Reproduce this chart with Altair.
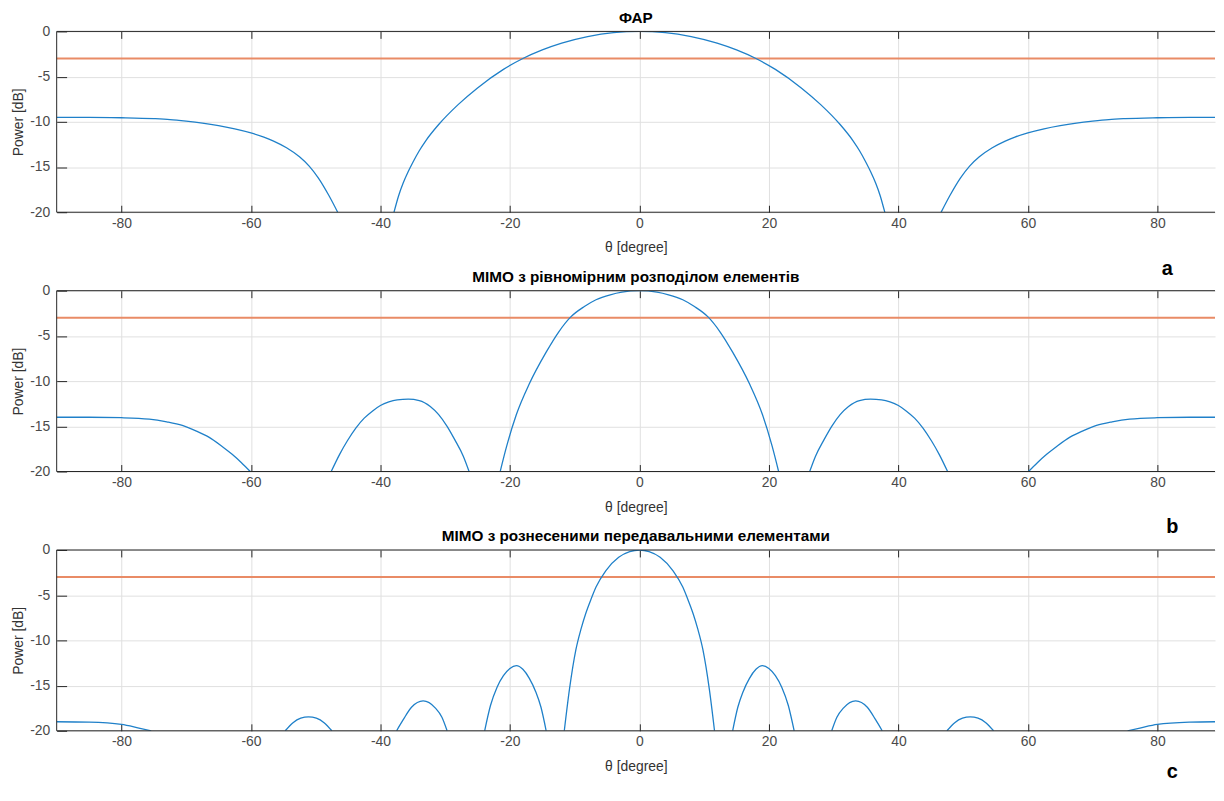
import altair as alt
import pandas as pd

# ---------------- data ----------------
TITLES = ["ФАР",
          "MIMO з рівномірним розподілом елементів",
          "MIMO з рознесеними передавальними елементами"]
LETTERS = ["a", "b", "c"]

X_TICKS = [-80, -60, -40, -20, 0, 20, 40, 60, 80]
Y_TICKS = [-20, -15, -10, -5, 0]
X_DOMAIN = [-90, 88.9]          # the reference is cropped just short of +90
Y_DOMAIN = [-20, 0]
HALF_POWER = [-3]

# Panel a (ФАР)
A1_T = [-90, -85, -80, -75, -72.5, -70, -67.5, -65, -62.5, -60, -58, -56.5, -54.5, -52.5, -51, -49.6, -48, -46.6]
A1_P = [-9.5, -9.5, -9.55, -9.65, -9.75, -9.93, -10.15, -10.43, -10.78, -11.23, -11.69, -12.13, -12.87, -13.87, -14.9, -16.2, -18.1, -20]
A2_T = [-37.9, -37.2, -36.5, -35.7, -35, -34, -33, -31, -28, -25, -21, -18, -15, -12, -8, -4, 0,
        4, 8, 12, 15, 18, 21, 25, 28, 31, 33, 34, 35, 35.7, 36.5, 37.2, 37.9]
A2_P = [-20, -18.2, -16.8, -15.5, -14.5, -13.2, -12.1, -10.3, -8.1, -6.25, -4.2, -3.0, -2.05, -1.3, -0.58, -0.14, 0,
        -0.14, -0.58, -1.3, -2.05, -3.0, -4.2, -6.25, -8.1, -10.3, -12.1, -13.2, -14.5, -15.5, -16.8, -18.2, -20]
A3_T = [46.6, 48, 49.6, 51, 52.5, 54.5, 56.5, 58, 60, 62.5, 65, 67.5, 70, 72.5, 75, 80, 85, 88.9]
A3_P = [-20, -18.1, -16.2, -14.9, -13.87, -12.87, -12.13, -11.69, -11.23, -10.78, -10.43, -10.15, -9.93, -9.75, -9.65, -9.55, -9.5, -9.5]

# Panel b (MIMO, uniform)
B1_T = [-90, -85, -80, -75.7, -73, -70.6, -68.5, -66.5, -64.5, -62.9, -61.5, -60.1]
B1_P = [-14.0, -14.0, -14.05, -14.2, -14.5, -14.9, -15.5, -16.2, -17.2, -18.1, -19.0, -20]
B2_T = [-47.6, -46.3, -45.1, -43.8, -42.5, -41.2, -40, -38.7, -37.4, -35.7, -34, -32.3, -31, -29.7, -28.5, -27.2, -26.3]
B2_P = [-20, -18.1, -16.6, -15.2, -14.1, -13.3, -12.7, -12.3, -12.08, -12.0, -12.15, -12.8, -13.7, -15.0, -16.5, -18.3, -20]
B3_T = [-21.5, -20.5, -19, -17, -14.4, -12.5, -10.6, -8.5, -6.7, -4.5, -2.7, 0,
        2.7, 4.5, 6.7, 8.5, 10.6, 12.5, 14.4, 17, 19, 20.5, 21.5]
B3_P = [-20, -17.2, -13.7, -10.3, -6.8, -4.6, -2.9, -1.75, -1.0, -0.45, -0.16, 0,
        -0.16, -0.45, -1.0, -1.75, -2.9, -4.6, -6.8, -10.3, -13.7, -17.2, -20]
B4_T = [26.3, 27.2, 28.5, 29.7, 31, 32.3, 34, 35.7, 37.4, 38.7, 40, 41.2, 42.5, 43.8, 45.1, 46.3, 47.6]
B4_P = [-20, -18.3, -16.5, -15.0, -13.7, -12.8, -12.15, -12.0, -12.08, -12.3, -12.7, -13.3, -14.1, -15.2, -16.6, -18.1, -20]
B5_T = [60.1, 61.5, 62.9, 64.5, 66.5, 68.5, 70.6, 73, 75.7, 80, 85, 88.9]
B5_P = [-20, -19.0, -18.1, -17.2, -16.2, -15.5, -14.9, -14.5, -14.2, -14.05, -14.0, -14.0]

# Panel c (MIMO, spaced transmit elements)
C1_T = [-90, -85, -80, -77.3, -75.4]
C1_P = [-19.0, -19.05, -19.3, -19.7, -20]
C2_T = [-54.7, -53.5, -52.3, -51.1, -49.9, -48.7, -47.5]
C2_P = [-20, -19.1, -18.6, -18.45, -18.6, -19.1, -20]
C3_T = [-37.5, -36.5, -35.2, -33.4, -31.5, -30.5, -29.7]
C3_P = [-20, -18.8, -17.4, -16.7, -17.5, -18.5, -20]
C4_T = [-23.9, -23, -22, -21, -20, -19, -18, -17, -16, -15.2, -14.4]
C4_P = [-20, -17.2, -15.2, -13.9, -13.1, -12.8, -13.2, -14.2, -15.7, -17.4, -20]
C5_T = [-11.6, -10.8, -9.8, -9, -8.3, -7.5, -6.7, -5.2, -3.2, -1.5, 0,
        1.5, 3.2, 5.2, 6.7, 7.5, 8.3, 9, 9.8, 10.8, 11.6]
C5_P = [-20, -15.4, -11.0, -8.7, -7.05, -5.5, -4.1, -2.3, -0.8, -0.18, 0,
        -0.18, -0.8, -2.3, -4.1, -5.5, -7.05, -8.7, -11.0, -15.4, -20]
C6_T = [14.4, 15.2, 16, 17, 18, 19, 20, 21, 22, 23, 23.9]
C6_P = [-20, -17.4, -15.7, -14.2, -13.2, -12.8, -13.1, -13.9, -15.2, -17.2, -20]
C7_T = [29.7, 30.5, 31.5, 33.4, 35.2, 36.5, 37.5]
C7_P = [-20, -18.5, -17.5, -16.7, -17.4, -18.8, -20]
C8_T = [47.5, 48.7, 49.9, 51.1, 52.3, 53.5, 54.7]
C8_P = [-20, -19.1, -18.6, -18.45, -18.6, -19.1, -20]
C9_T = [75.4, 77.3, 80, 85, 88.9]
C9_P = [-20, -19.7, -19.3, -19.05, -19.0]

# ---------------- styling ----------------
W, H = 1166, 182
FONT = "Liberation Sans"
BLUE = "#1f80c9"
ORANGE = "#E98B66"
AXC = "#262626"
LABEL = "#4a4a4a"
GRID = "#e0e0e0"


def frame(segs):
    rows = []
    for i, (ts, ps) in enumerate(segs):
        for t, p in zip(ts, ps):
            rows.append({"theta": t, "power": p, "seg": i})
    return pd.DataFrame(rows)


def panel(segs, title, letter, lx, ly):
    df = frame(segs)
    xs = alt.Scale(domain=X_DOMAIN, nice=False, zero=False)
    ys = alt.Scale(domain=Y_DOMAIN, nice=False, zero=False)
    lbl = "datum.value + ''"

    hp = alt.Chart(pd.DataFrame({"level": HALF_POWER})).mark_rule(
        color=ORANGE, strokeWidth=2
    ).encode(y=alt.Y("level:Q", scale=ys, axis=None))

    main = alt.Chart(df).mark_line(
        color=BLUE, strokeWidth=1.3, interpolate="monotone", clip=True
    ).encode(
        x=alt.X("theta:Q", scale=xs,
                axis=alt.Axis(orient="bottom", values=X_TICKS, offset=-7, tickSize=7,
                              labelPadding=4, domain=False, grid=True, minExtent=0,
                              title="θ [degree]", titlePadding=11, labelExpr=lbl)),
        y=alt.Y("power:Q", scale=ys,
                axis=alt.Axis(orient="left", values=Y_TICKS, offset=-10, tickSize=10,
                              labelPadding=7, domain=False, grid=True, minExtent=0,
                              title="Power [dB]", titlePadding=4, labelExpr=lbl)),
        detail="seg:N",
    )

    ticks = alt.Chart(df).mark_line(opacity=0, clip=True).encode(
        x=alt.X("theta:Q", scale=xs,
                axis=alt.Axis(orient="top", values=X_TICKS, offset=-7, tickSize=7, minExtent=0,
                              labels=False, domain=False, grid=False, title=None)),
        y=alt.Y("power:Q", scale=ys, axis=None),
        detail="seg:N",
    )

    base = alt.Chart(pd.DataFrame({"k": [0]})).mark_rule(color=AXC, strokeWidth=1)
    top = base.encode(x=alt.value(0), x2=alt.value(W), y=alt.value(0))
    bottom = base.encode(x=alt.value(0), x2=alt.value(W), y=alt.value(H))
    left = base.encode(x=alt.value(0), y=alt.value(0), y2=alt.value(H))

    txt = alt.Chart(pd.DataFrame({"t": [letter]})).mark_text(
        font=FONT, fontSize=20, fontWeight="bold", color="black",
        align="center", baseline="middle"
    ).encode(x=alt.value(lx), y=alt.value(ly), text="t:N")

    return alt.layer(hp, main, ticks, top, bottom, left, txt).resolve_axis(
        x="independent", y="independent"
    ).properties(
        width=W, height=H,
        title=alt.TitleParams(text=title, font=FONT, fontSize=15.4, fontWeight="bold",
                              color="black", offset=-1.5, anchor="middle"),
    )


pa = panel([(A1_T, A1_P), (A2_T, A2_P), (A3_T, A3_P)], TITLES[0], LETTERS[0], 1118, 239)
pb = panel([(B1_T, B1_P), (B2_T, B2_P), (B3_T, B3_P), (B4_T, B4_P), (B5_T, B5_P)],
           TITLES[1], LETTERS[1], 1123, 238)
pc = panel([(C1_T, C1_P), (C2_T, C2_P), (C3_T, C3_P), (C4_T, C4_P), (C5_T, C5_P),
            (C6_T, C6_P), (C7_T, C7_P), (C8_T, C8_P), (C9_T, C9_P)],
           TITLES[2], LETTERS[2], 1123, 224)

chart = alt.vconcat(pa, pb, pc, spacing=79, bounds="flush").properties(
    padding={"left": 3, "top": 0, "right": 0, "bottom": 0}
).configure_view(stroke=None).configure_axis(
    labelFont=FONT, labelFontSize=14, labelColor=LABEL,
    titleFont=FONT, titleFontSize=14, titleFontWeight="normal", titleColor="#333333",
    tickColor=AXC, tickWidth=1, gridColor=GRID, gridWidth=1,
)

chart.save("out.html", embed_options={"renderer": "svg", "actions": False})
